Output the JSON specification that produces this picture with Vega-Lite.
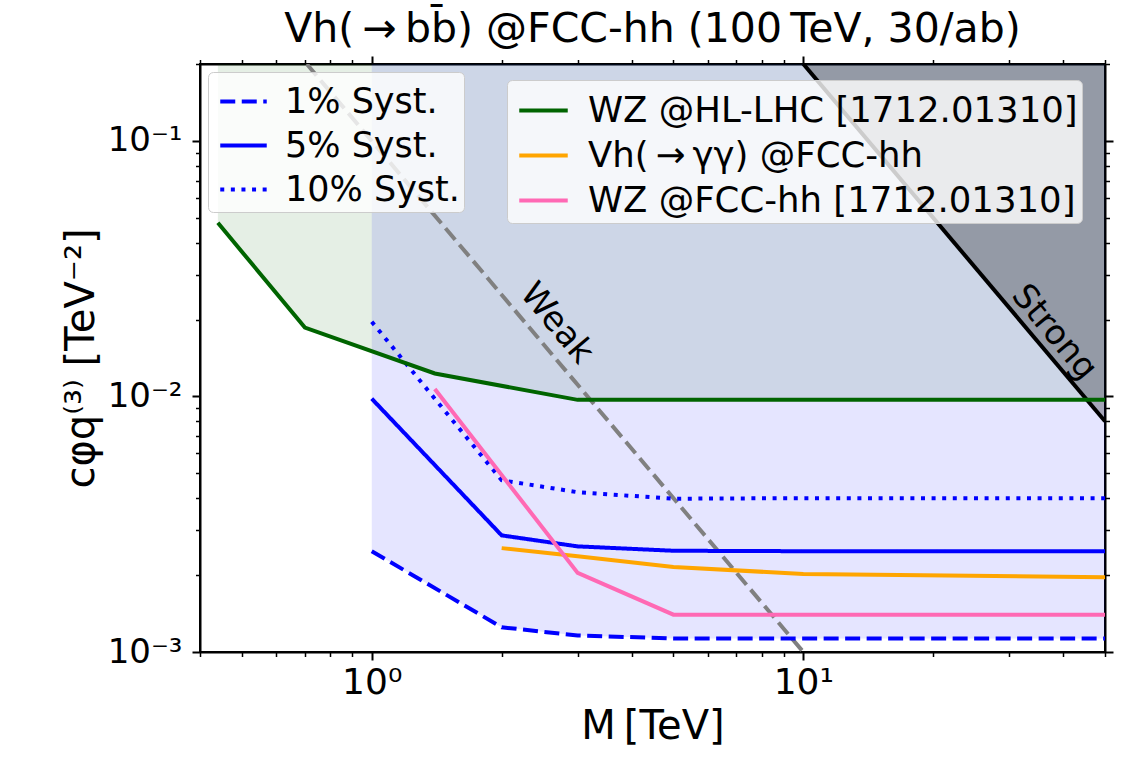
{
  "$schema": "https://vega.github.io/schema/vega-lite/v6.json",
  "width": 905,
  "height": 588,
  "autosize": {"type": "none"},
  "padding": {"left": 200, "top": 64, "right": 22, "bottom": 105},
  "background": "white",
  "config": {
    "font": "DejaVu Sans",
    "view": {"stroke": "black", "strokeWidth": 2},
    "axis": {"domainColor": "black", "domainWidth": 2, "tickColor": "black", "labelColor": "black", "titleColor": "black", "grid": false, "labelFont": "DejaVu Sans", "titleFont": "DejaVu Sans", "titleFontWeight": "normal", "labelOverlap": false, "labelFlush": false}
  },
  "title": {"text": "Vh(\u2009\u2192\u2009bb\u0304) @FCC-hh (100\u2009TeV, 30/ab)", "fontSize": 41, "font": "DejaVu Sans", "fontWeight": "normal", "offset": -4, "anchor": "middle", "color": "black"},
  "datasets": {
    "lines": [
      {"g": "exp", "name": "WZ @HL-LHC [1712.01310]", "M": 0.44, "c": 0.0478},
      {"g": "exp", "name": "WZ @HL-LHC [1712.01310]", "M": 0.70, "c": 0.0186},
      {"g": "exp", "name": "WZ @HL-LHC [1712.01310]", "M": 1.4, "c": 0.0123},
      {"g": "exp", "name": "WZ @HL-LHC [1712.01310]", "M": 3, "c": 0.0097},
      {"g": "exp", "name": "WZ @HL-LHC [1712.01310]", "M": 50, "c": 0.0097},
      {"g": "exp", "name": "Vh(\u2009\u2192\u2009\u03b3\u03b3) @FCC-hh", "M": 2, "c": 0.00255},
      {"g": "exp", "name": "Vh(\u2009\u2192\u2009\u03b3\u03b3) @FCC-hh", "M": 3, "c": 0.00237},
      {"g": "exp", "name": "Vh(\u2009\u2192\u2009\u03b3\u03b3) @FCC-hh", "M": 5, "c": 0.00215},
      {"g": "exp", "name": "Vh(\u2009\u2192\u2009\u03b3\u03b3) @FCC-hh", "M": 10, "c": 0.00202},
      {"g": "exp", "name": "Vh(\u2009\u2192\u2009\u03b3\u03b3) @FCC-hh", "M": 50, "c": 0.00196},
      {"g": "exp", "name": "WZ @FCC-hh [1712.01310]", "M": 1.4, "c": 0.0107},
      {"g": "exp", "name": "WZ @FCC-hh [1712.01310]", "M": 3, "c": 0.00204},
      {"g": "exp", "name": "WZ @FCC-hh [1712.01310]", "M": 5, "c": 0.0014},
      {"g": "exp", "name": "WZ @FCC-hh [1712.01310]", "M": 50, "c": 0.0014},
      {"g": "syst", "name": "1% Syst.", "M": 1, "c": 0.00248},
      {"g": "syst", "name": "1% Syst.", "M": 2, "c": 0.00125},
      {"g": "syst", "name": "1% Syst.", "M": 3, "c": 0.00116},
      {"g": "syst", "name": "1% Syst.", "M": 5, "c": 0.00113},
      {"g": "syst", "name": "1% Syst.", "M": 10, "c": 0.00113},
      {"g": "syst", "name": "1% Syst.", "M": 50, "c": 0.00113},
      {"g": "syst", "name": "5% Syst.", "M": 1, "c": 0.0098},
      {"g": "syst", "name": "5% Syst.", "M": 2, "c": 0.00286},
      {"g": "syst", "name": "5% Syst.", "M": 3, "c": 0.00259},
      {"g": "syst", "name": "5% Syst.", "M": 5, "c": 0.00249},
      {"g": "syst", "name": "5% Syst.", "M": 10, "c": 0.00248},
      {"g": "syst", "name": "5% Syst.", "M": 50, "c": 0.00248},
      {"g": "syst", "name": "10% Syst.", "M": 1, "c": 0.0196},
      {"g": "syst", "name": "10% Syst.", "M": 2, "c": 0.0047},
      {"g": "syst", "name": "10% Syst.", "M": 3, "c": 0.00422},
      {"g": "syst", "name": "10% Syst.", "M": 5, "c": 0.00398},
      {"g": "syst", "name": "10% Syst.", "M": 10, "c": 0.004},
      {"g": "syst", "name": "10% Syst.", "M": 50, "c": 0.004},
      {"g": "weak", "name": "weak", "M": 0.7071, "c": 0.2},
      {"g": "weak", "name": "weak", "M": 10, "c": 0.001},
      {"g": "strong", "name": "strong", "M": 10, "c": 0.2},
      {"g": "strong", "name": "strong", "M": 50, "c": 0.008}
    ],
    "labels": [
      {"M": 2.68, "c": 0.0193, "t": "Weak"},
      {"M": 38.1, "c": 0.0178, "t": "Strong"}
    ]
  },
  "resolve": {"axis": {"x": "independent", "y": "independent"}},
  "layer": [
    {
      "data": {"name": "lines"},
      "transform": [{"filter": "datum.name == 'WZ @HL-LHC [1712.01310]'"}],
      "mark": {"type": "area", "color": "#006400", "opacity": 0.1, "clip": true},
      "encoding": {
        "x": {"field": "M", "type": "quantitative", "scale": {"type": "log", "domain": [0.4, 50], "nice": false},
          "axis": {"orient": "bottom", "values": [0.4,0.5,0.6,0.7,0.8,0.9,1,2,3,4,5,6,7,8,9,10,20,30,40,50],
            "labelExpr": "datum.value == 1 ? '10\u2070' : datum.value == 10 ? '10\u00b9' : ''",
            "tickSize": {"condition": {"test": "datum.value == 1 || datum.value == 10", "value": 8}, "value": 4.5},
            "tickWidth": {"condition": {"test": "datum.value == 1 || datum.value == 10", "value": 2}, "value": 1.5},
            "labelFontSize": 36, "labelPadding": 5, "title": "M\u2009[TeV]", "titleFontSize": 40, "titlePadding": 6}},
        "y": {"field": "c", "type": "quantitative", "scale": {"type": "log", "domain": [0.001, 0.2], "nice": false},
          "axis": {"orient": "left", "values": [0.001,0.002,0.003,0.004,0.005,0.006,0.007,0.008,0.009,0.01,0.02,0.03,0.04,0.05,0.06,0.07,0.08,0.09,0.1,0.2],
            "labelExpr": "datum.value == 0.1 ? '10\u207b\u00b9' : datum.value == 0.01 ? '10\u207b\u00b2' : datum.value == 0.001 ? '10\u207b\u00b3' : ''",
            "tickSize": {"condition": {"test": "datum.value == 0.1 || datum.value == 0.01 || datum.value == 0.001", "value": 8}, "value": 4.5},
            "tickWidth": {"condition": {"test": "datum.value == 0.1 || datum.value == 0.01 || datum.value == 0.001", "value": 2}, "value": 1.5},
            "labelFontSize": 34, "labelPadding": 10, "title": "c\u03c6q\u207d\u00b3\u207e [TeV\u207b\u00b2]", "titleFontSize": 40, "titlePadding": 6}},
        "y2": {"datum": 0.2}
      }
    },
    {
      "data": {"name": "lines"},
      "transform": [{"filter": "datum.name == '1% Syst.'"}],
      "mark": {"type": "area", "color": "blue", "opacity": 0.1, "clip": true},
      "encoding": {
        "x": {"field": "M", "type": "quantitative", "axis": null},
        "y": {"field": "c", "type": "quantitative", "axis": null},
        "y2": {"datum": 0.2}
      }
    },
    {
      "data": {"name": "lines"},
      "transform": [{"filter": "datum.g == 'strong'"}],
      "mark": {"type": "area", "color": "black", "opacity": 0.28, "clip": true},
      "encoding": {
        "x": {"field": "M", "type": "quantitative", "axis": null},
        "y": {"field": "c", "type": "quantitative", "axis": null},
        "y2": {"datum": 0.2}
      }
    },
    {
      "data": {"name": "lines"},
      "transform": [{"filter": "datum.g == 'weak'"}],
      "mark": {"type": "line", "color": "grey", "strokeWidth": 4, "strokeDash": [15, 6.5], "clip": true},
      "encoding": {
        "x": {"field": "M", "type": "quantitative", "axis": null},
        "y": {"field": "c", "type": "quantitative", "axis": null}
      }
    },
    {
      "data": {"name": "lines"},
      "transform": [{"filter": "datum.g == 'strong'"}],
      "mark": {"type": "line", "color": "black", "strokeWidth": 4, "clip": true},
      "encoding": {
        "x": {"field": "M", "type": "quantitative", "axis": null},
        "y": {"field": "c", "type": "quantitative", "axis": null}
      }
    },
    {
      "data": {"name": "lines"},
      "transform": [{"filter": "datum.g == 'syst'"}],
      "mark": {"type": "line", "color": "blue", "strokeWidth": 4, "strokeCap": "butt", "clip": true},
      "encoding": {
        "x": {"field": "M", "type": "quantitative", "axis": null},
        "y": {"field": "c", "type": "quantitative", "axis": null},
        "strokeDash": {"field": "name", "type": "nominal",
          "scale": {"domain": ["1% Syst.", "5% Syst.", "10% Syst."], "range": [[15, 6.5], [1, 0], [4, 6.6]]},
          "legend": {"title": null, "orient": "none", "legendX": 8, "legendY": 8, "symbolType": "stroke", "symbolStrokeColor": "blue", "symbolStrokeWidth": 4, "symbolSize": 2162, "symbolOffset": 6, "labelFontSize": 35, "labelOffset": 16, "labelFont": "DejaVu Sans", "labelColor": "black", "padding": 4, "rowPadding": 0, "fillColor": "rgba(255,255,255,0.8)", "strokeColor": "#cccccc", "cornerRadius": 5, "labelLimit": 600}}
      }
    },
    {
      "data": {"name": "lines"},
      "transform": [{"filter": "datum.g == 'exp'"}],
      "mark": {"type": "line", "strokeWidth": 4, "clip": true},
      "encoding": {
        "x": {"field": "M", "type": "quantitative", "axis": null},
        "y": {"field": "c", "type": "quantitative", "axis": null},
        "color": {"field": "name", "type": "nominal",
          "scale": {"domain": ["WZ @HL-LHC [1712.01310]", "Vh(\u2009\u2192\u2009\u03b3\u03b3) @FCC-hh", "WZ @FCC-hh [1712.01310]"], "range": ["#006400", "#ffa500", "#ff69b4"]},
          "legend": {"title": null, "orient": "none", "legendX": 307, "legendY": 16, "symbolType": "stroke", "symbolStrokeWidth": 4, "symbolSize": 2352, "symbolOffset": 6, "labelFontSize": 35.5, "labelOffset": 18, "labelFont": "DejaVu Sans", "labelColor": "black", "padding": 4, "rowPadding": 0, "fillColor": "rgba(255,255,255,0.8)", "strokeColor": "#cccccc", "cornerRadius": 5, "labelLimit": 800}}
      }
    },
    {
      "data": {"name": "labels"},
      "mark": {"type": "text", "angle": 50, "fontSize": 34, "font": "DejaVu Sans", "color": "black", "align": "center", "baseline": "middle"},
      "encoding": {
        "x": {"field": "M", "type": "quantitative",
          "axis": {"orient": "top", "values": [0.4,0.5,0.6,0.7,0.8,0.9,1,2,3,4,5,6,7,8,9,10,20,30,40,50], "labels": false, "title": null,
            "tickSize": {"condition": {"test": "datum.value == 1 || datum.value == 10", "value": 8}, "value": 4.5},
            "tickWidth": {"condition": {"test": "datum.value == 1 || datum.value == 10", "value": 2}, "value": 1.5}}},
        "y": {"field": "c", "type": "quantitative",
          "axis": {"orient": "right", "values": [0.001,0.002,0.003,0.004,0.005,0.006,0.007,0.008,0.009,0.01,0.02,0.03,0.04,0.05,0.06,0.07,0.08,0.09,0.1,0.2], "labels": false, "title": null,
            "tickSize": {"condition": {"test": "datum.value == 0.1 || datum.value == 0.01 || datum.value == 0.001", "value": 8}, "value": 4.5},
            "tickWidth": {"condition": {"test": "datum.value == 0.1 || datum.value == 0.01 || datum.value == 0.001", "value": 2}, "value": 1.5}}},
        "text": {"field": "t", "type": "nominal"}
      }
    }
  ]
}
